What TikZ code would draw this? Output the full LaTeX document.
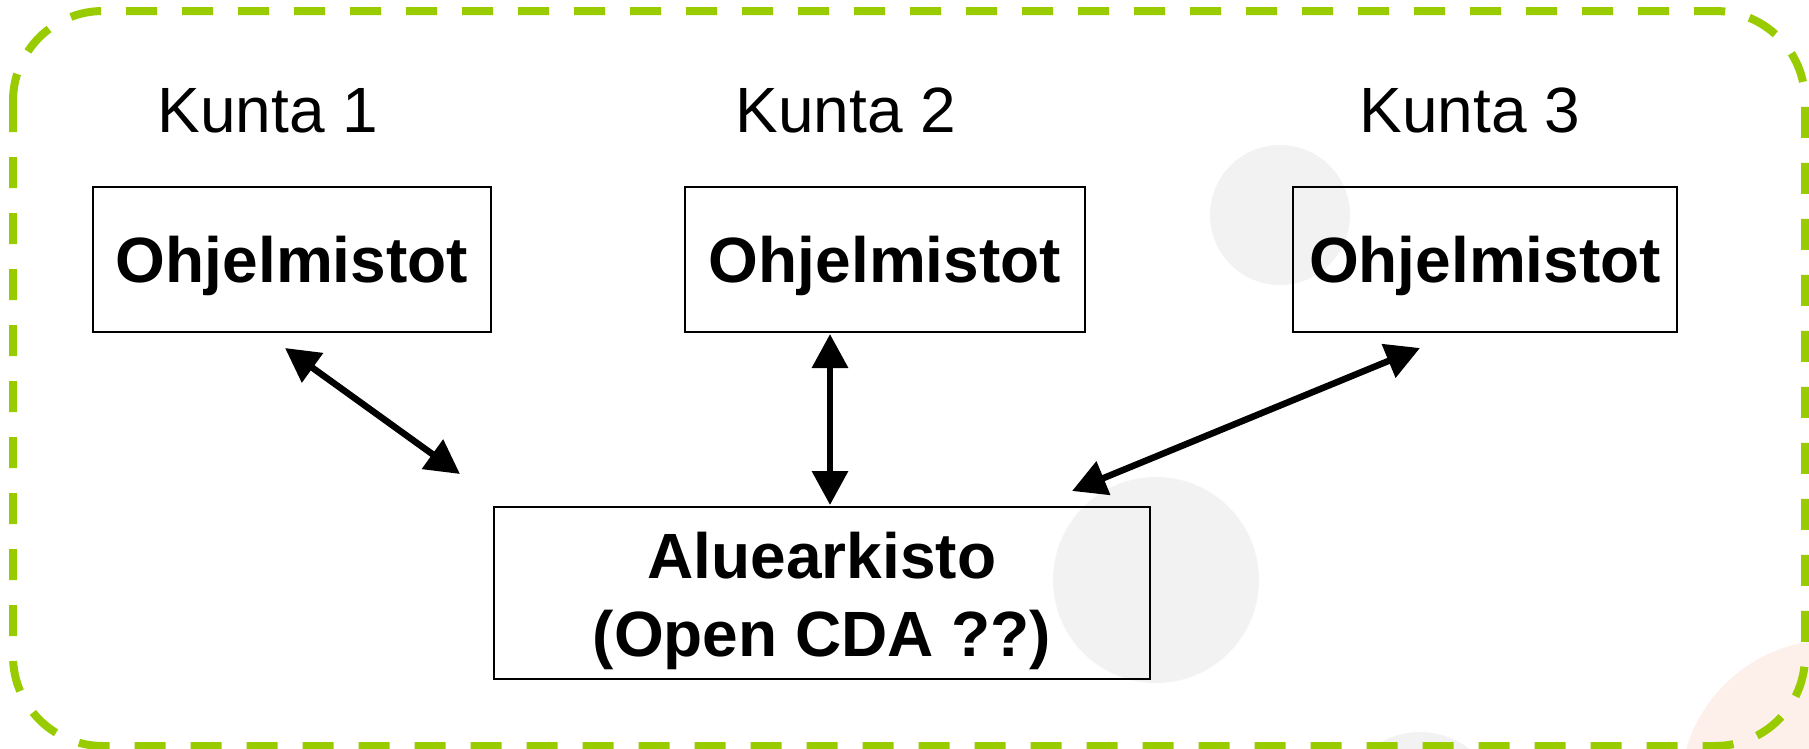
\documentclass[tikz,border=0pt]{standalone}
\usepackage{fontspec}
\setmainfont{Liberation Sans}
\usetikzlibrary{arrows.meta}
\definecolor{bggray}{RGB}{242,242,242}
\definecolor{bgpeach}{RGB}{253,240,234}
\definecolor{frame}{RGB}{153,204,0}
\tikzset{
  soft/.style={fill=bggray, draw=none},
  title/.style={anchor=base, font=\fontsize{64}{77}\selectfont},
  progbox/.style={draw=black, line width=2pt, minimum height=145pt, inner sep=0pt,
    font=\fontsize{64}{77}\selectfont\bfseries, text height=45pt, text depth=0pt},
  archbox/.style={draw=black, line width=2pt, minimum width=656pt, minimum height=172pt, inner sep=0pt},
  archtext/.style={align=center, font=\fontsize{64}{78}\selectfont\bfseries, inner sep=0pt},
  link/.style={line width=6.5pt, {Triangle[length=34pt,width=35pt]}-{Triangle[length=34pt,width=35pt]}},
}
\begin{document}
\begin{tikzpicture}[x=1pt,y=-1pt]
\useasboundingbox (0,0) rectangle (1809,748);
% background decorations
\fill[bgpeach] (1832,792) circle (152);
\fill[soft] (1280,215) circle (70);
\fill[soft] (1156,580) circle (103);
\fill[soft] (1420,812) circle (80);
% frame
\draw[frame, line width=8pt, dash pattern=on 31pt off 25pt, rounded corners=90pt]
  (13,11) rectangle (1805,746);
% titles
\node[title] (k1) at (268,132) {Kunta 1};
\node[title] (k2) at (846,132) {Kunta 2};
\node[title] (k3) at (1470,132) {Kunta 3};
% boxes
\node[progbox, minimum width=398pt] (b1) at (292,259.5) {Ohjelmistot};
\node[progbox, minimum width=400pt] (b2) at (885,259.5) {Ohjelmistot};
\node[progbox, minimum width=384pt] (b3) at (1485,259.5) {Ohjelmistot};
\node[archbox] (b4) at (822,593) {};
\node[archtext] (b4t) at ([yshift=-8pt]b4.center) {Aluearkisto\\(Open CDA ??)};
% connectors
\draw[link] ([xshift=-7pt,yshift=-15pt]b1.south) -- ([xshift=-33pt,yshift=32pt]b4.north west);
\draw[link] ([xshift=-55pt,yshift=-1pt]b2.south) -- ([xshift=8pt,yshift=1pt]b4.north);
\draw[link] ([xshift=-65pt,yshift=-15pt]b3.south) -- ([xshift=-79pt,yshift=15pt]b4.north east);
\end{tikzpicture}
\end{document}
